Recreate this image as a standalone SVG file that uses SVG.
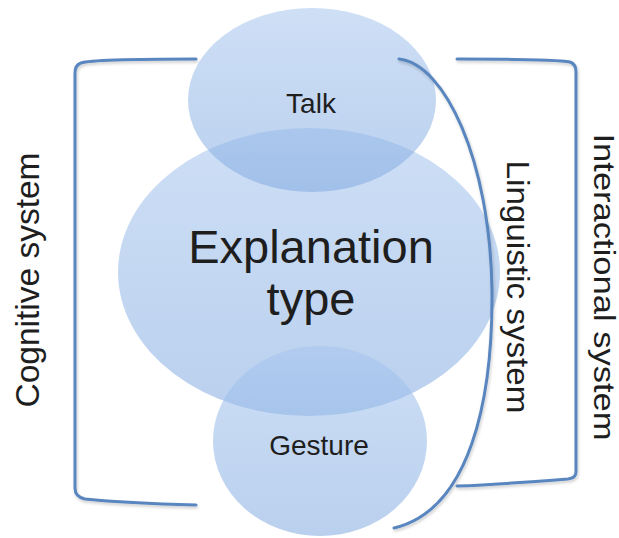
<svg xmlns="http://www.w3.org/2000/svg" width="619" height="538" viewBox="0 0 619 538">
  <defs>
    <linearGradient id="fillGrad" x1="0" y1="0" x2="0" y2="1">
      <stop offset="0" stop-color="#a6c5ee"/>
      <stop offset="1" stop-color="#80a9e0"/>
    </linearGradient>
    <filter id="shadow" x="-10%" y="-10%" width="120%" height="120%">
      <feDropShadow dx="1" dy="2" stdDeviation="1.5" flood-color="#000" flood-opacity="0.2"/>
    </filter>
  </defs>
  <style>
    .bubble { fill: url(#fillGrad); fill-opacity: 0.55; stroke: none; }
    .label { font-family: "Liberation Sans", Arial, sans-serif; fill: #1e1e1e; text-anchor: middle; }
    .conn { fill: none; stroke: #5a86c0; stroke-width: 3; stroke-linecap: round; filter: url(#shadow); }
  </style>
  <rect width="619" height="538" fill="#ffffff"/>

  <g id="node-explanation">
    <ellipse class="bubble" cx="309" cy="272" rx="191" ry="144"/>
    <text class="label" x="311" y="263" font-size="47">Explanation</text>
    <text class="label" x="311" y="315" font-size="47">type</text>
  </g>
  <g id="node-talk">
    <ellipse class="bubble" cx="312" cy="100" rx="124" ry="92"/>
    <text class="label" x="311" y="113" font-size="28">Talk</text>
  </g>
  <g id="node-gesture">
    <ellipse class="bubble" cx="320" cy="441" rx="107" ry="95"/>
    <text class="label" x="319" y="455" font-size="28">Gesture</text>
  </g>

  <g id="connectors">
    <path id="bracket-cognitive" class="conn" d="M196,59 C150,59 90,60 81,63 Q75,65 75,73 L75,488 Q75,497 85,499 C115,502 160,504 196,505"/>
    <path id="curve-linguistic" class="conn" d="M399,59 C445,64 490,160 492,290 C493,400 470,510 394,528"/>
    <path id="bracket-interactional" class="conn" d="M457,59 C500,59 560,60 570,62 Q576,64 576,72 L576,472 Q576,478 568,479 C530,482 490,485 457,486"/>
  </g>

  <g id="labels">
    <text class="label" font-size="34" textLength="255" lengthAdjust="spacingAndGlyphs" transform="translate(39,280) rotate(-90)">Cognitive system</text>
    <text class="label" font-size="31" textLength="253" lengthAdjust="spacingAndGlyphs" transform="translate(507,287) rotate(90)">Linguistic system</text>
    <text class="label" font-size="29" textLength="307" lengthAdjust="spacingAndGlyphs" transform="translate(594,287) rotate(90)">Interactional system</text>
  </g>
</svg>
